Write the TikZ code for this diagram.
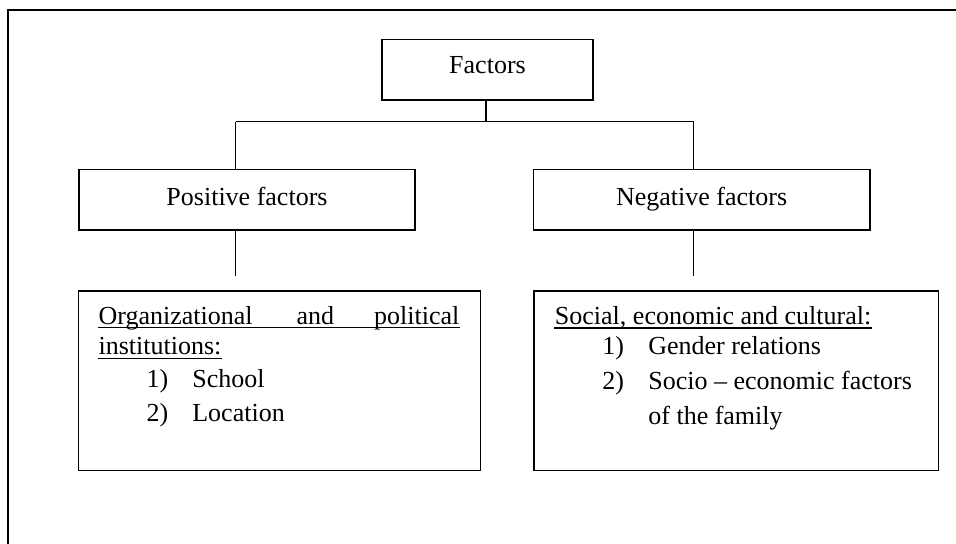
\documentclass[tikz,border=0pt]{standalone}
\usepackage{fontspec}
\setmainfont{Liberation Serif}
\begin{document}
\begin{tikzpicture}[x=0.5pt,y=-0.5pt,
  line width=0.65pt,
  every node/.style={font=\fontsize{13}{15}\selectfont},
  box/.style={draw,line width=0.65pt,rectangle,inner sep=0pt,text height=0.8em,text depth=0.25em},
  txt/.style={inner sep=0pt,anchor=base west},
  uline/.style={line width=0.6pt}]
\useasboundingbox (0,0) rectangle (956,544);
% frame
\coordinate (fbl) at (8,546);
\coordinate (ftl) at (8,10);
\coordinate (ftr) at (958,10);
\draw (fbl) -- (ftl) -- (ftr);
% boxes
\node[box,text height=0.6em,minimum width=105.5pt,minimum height=30.35pt] (factors) at (487.5,69.65) {Factors};
\node[box,minimum width=168pt,minimum height=30.35pt] (pos) at (247,199.65) {Positive factors};
\node[box,minimum width=168.35pt,minimum height=30.35pt] (neg) at (701.65,199.65) {Negative factors};
\node[box,minimum width=201.2pt,minimum height=89.85pt] (lbox) at (279.5,380.85) {};
\node[box,minimum width=202.35pt,minimum height=89.85pt] (rbox) at (736.35,380.85) {};
% connectors
\coordinate (jl) at (235.7,121.7);
\coordinate (jr) at (693.7,121.7);
\coordinate (jm) at (486,121.7);
\coordinate (pe) at (235.7,275.7);
\coordinate (ne) at (693.7,275.7);
\draw (jm |- factors.south) -- (jm);
\draw (jl) -- (jr);
\draw (jl) -- (jl |- pos.north);
\draw (jr) -- (jr |- neg.north);
\draw (jl |- pos.south) -- (pe);
\draw (jr |- neg.south) -- (ne);
% left box text
\node[txt] (l1a) at (98,325) {Organizational};
\node[txt] (l1b) at (296,325) {and};
\node[txt,anchor=base east] (l1c) at (460,325) {political};
\node[txt] (l2) at (98,355) {institutions:};
\node[txt] (l3n) at (146,387) {1)};
\node[txt] (l3) at (191.7,387) {School};
\node[txt] (l4n) at (146,421) {2)};
\node[txt] (l4) at (191.7,421) {Location};
\draw[uline] ([yshift=-1.4pt]l1a.base west) -- ([yshift=-1.4pt]l1c.base east);
\draw[uline] ([yshift=-1.6pt]l2.base west) -- ([yshift=-1.6pt]l2.base east);
% right box text
\node[txt] (r1) at (554.3,325) {Social, economic and cultural:};
\node[txt] (r2n) at (601.7,355) {1)};
\node[txt] (r2) at (647.7,355) {Gender relations};
\node[txt] (r3n) at (601.7,389) {2)};
\node[txt] (r3a) at (647.7,389) {Socio – economic factors};
\node[txt] (r4) at (647.7,424) {of the family};
\draw[uline] ([yshift=-1.5pt]r1.base west) -- ([yshift=-1.5pt]r1.base east);
\end{tikzpicture}
\end{document}
